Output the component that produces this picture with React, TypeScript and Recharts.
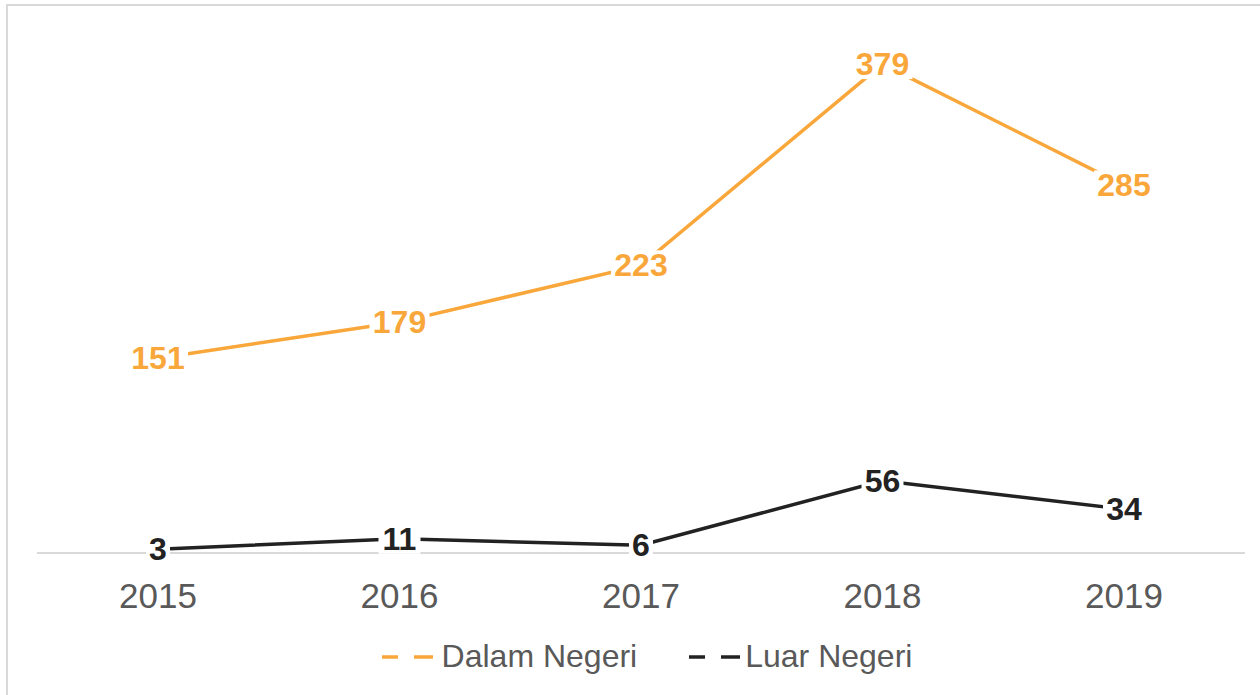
import { Legend, Line, LineChart, XAxis, YAxis, LabelList } from "recharts";

const years = ["2015", "2016", "2017", "2018", "2019"];
const dalamNegeri = [151, 179, 223, 379, 285];
const luarNegeri = [3, 11, 6, 56, 34];

const series = [
  { key: "dalam", name: "Dalam Negeri", color: "#F9A73B", values: dalamNegeri },
  { key: "luar", name: "Luar Negeri", color: "#222222", values: luarNegeri },
];

const data = years.map((year, i) => ({
  year,
  dalam: dalamNegeri[i],
  luar: luarNegeri[i],
}));

function PointLabel({ x, y, value, color }: any) {
  const text = String(value);
  const w = text.length * 18 + 6;
  const h = 30;
  return (
    <g>
      <rect x={x - w / 2} y={y - h / 2} width={w} height={h} fill="#ffffff" />
      <text
        x={x}
        y={y}
        textAnchor="middle"
        dominantBaseline="central"
        fill={color}
        fontSize={32}
        fontWeight="bold"
        fontFamily="Liberation Sans, Arial, sans-serif"
      >
        {text}
      </text>
    </g>
  );
}

function LegendContent() {
  return (
    <div style={{ display: "flex", justifyContent: "center", alignItems: "center", gap: 52, paddingLeft: 34 }}>
      {series.map((s) => (
        <div key={s.key} style={{ display: "flex", alignItems: "center" }}>
          <svg width={s.key === "luar" ? 56 : 60} height={10}>
            <line x1={0} y1={5} x2={51} y2={5} stroke={s.color} strokeWidth={3.5} strokeDasharray="16 16 19 9" />
          </svg>
          <span style={{ fontSize: 32, color: "#595959", fontFamily: "Liberation Sans, Arial, sans-serif" }}>{s.name}</span>
        </div>
      ))}
    </div>
  );
}

export default function App() {
  return (
    <div style={{ position: "absolute", left: 0, top: 0, width: 1260, height: 695, overflow: "hidden", background: "#fff" }}>
      <style>{`body{margin:0;overflow:hidden}`}</style>
      <div
        style={{
          position: "absolute",
          left: 6,
          top: 4,
          width: 1270,
          height: 710,
          border: "2px solid #d9d9d9",
          boxSizing: "border-box",
        }}
      />
      <div style={{ position: "absolute", left: 0, top: 0 }}>
        <LineChart width={1260} height={695} data={data} margin={{ top: 37, right: 15, bottom: 62, left: 37 }}>
          <XAxis
            dataKey="year"
            axisLine={{ stroke: "#d9d9d9", strokeWidth: 2 }}
            tickLine={false}
            tickMargin={24}
            height={80}
            padding={{ left: 121, right: 121 }}
            tick={{ fill: "#595959", fontSize: 35, fontFamily: "Liberation Sans, Arial, sans-serif" }}
          />
          <YAxis hide domain={[0, 400]} />
          <Legend
            layout="horizontal"
            verticalAlign="middle"
            align="center"
            wrapperStyle={{ top: 638, left: 0, width: 1260 }}
            content={<LegendContent />}
          />
          {series.map((s) => (
            <Line
              key={s.key}
              type="linear"
              dataKey={s.key}
              name={s.name}
              stroke={s.color}
              strokeWidth={3.5}
              dot={false}
              activeDot={false}
              isAnimationActive={false}
            >
              <LabelList dataKey={s.key} content={(props: any) => <PointLabel {...props} color={s.color} />} />
            </Line>
          ))}
        </LineChart>
      </div>
    </div>
  );
}
